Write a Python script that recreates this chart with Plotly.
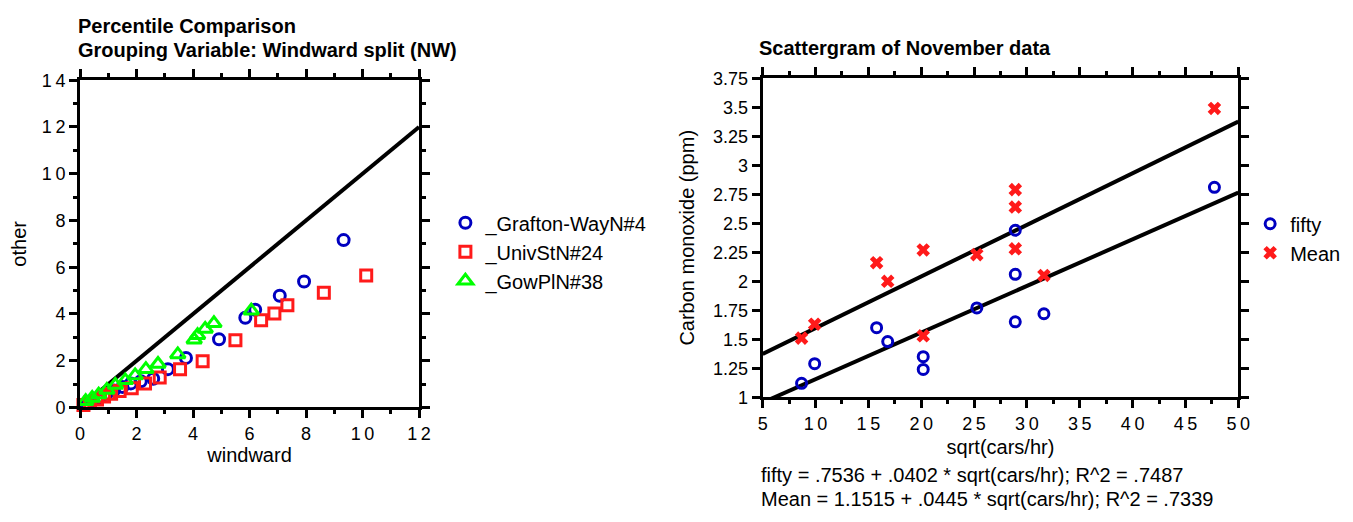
import plotly.graph_objects as go

W, H = 1353, 522

# ---------------- Left panel: percentile comparison ----------------
grafton_x = [0.25, 0.45, 0.7, 0.95, 1.2, 1.5, 1.8, 2.15, 2.59, 3.11, 3.75, 4.92, 5.85, 6.20, 7.07, 7.93, 9.33]
grafton_y = [0.15, 0.29, 0.44, 0.59, 0.73, 0.88, 1.03, 1.12, 1.23, 1.64, 2.12, 2.92, 3.84, 4.18, 4.78, 5.39, 7.16]

univ_x = [0.12, 0.35, 0.6, 0.85, 1.1, 1.4, 1.83, 2.30, 2.82, 3.54, 4.34, 5.50, 6.41, 6.88, 7.34, 8.63, 10.13]
univ_y = [0.10, 0.21, 0.34, 0.47, 0.59, 0.70, 0.82, 1.03, 1.28, 1.64, 1.98, 2.88, 3.73, 4.02, 4.37, 4.91, 5.65]

gowpl_x = [0.20, 0.43, 0.66, 0.95, 1.25, 1.60, 1.95, 2.33, 2.76, 3.46, 4.04, 4.16, 4.43, 4.74, 6.06]
gowpl_y = [0.27, 0.41, 0.55, 0.75, 0.96, 1.16, 1.37, 1.64, 1.86, 2.27, 2.90, 3.09, 3.36, 3.60, 4.14]

diag = [0, 12]

x1_tickvals = [0, 2, 4, 6, 8, 10, 12]
x1_ticktext = ["0", "2", "4", "6", "8", "1\u20090", "1\u20092"]
y1_tickvals = [0, 2, 4, 6, 8, 10, 12, 14]
y1_ticktext = ["0", "2", "4", "6", "8", "1\u20090", "1\u20092", "1\u20094"]

# ---------------- Right panel: scattergram ----------------
sqrt_cars = [8.68, 9.92, 15.78, 16.83, 20.19, 20.19, 25.26, 28.90, 28.90, 28.90, 31.61, 47.74]
fifty = [1.12, 1.29, 1.60, 1.48, 1.35, 1.24, 1.77, 2.44, 2.06, 1.65, 1.72, 2.81]
mean_x = [8.68, 9.92, 15.78, 16.83, 20.19, 20.19, 25.26, 28.90, 28.90, 28.90, 31.61, 47.74]
mean_co = [1.51, 1.63, 2.16, 2.00, 2.27, 1.53, 2.23, 2.79, 2.64, 2.28, 2.05, 3.49]

fit_x = [5, 50]
fifty_fit = (0.7536, 0.0402)
mean_fit = (1.1515, 0.0445)

x2_tickvals = [5, 10, 15, 20, 25, 30, 35, 40, 45, 50]
x2_ticktext = ["5", "1\u20090", "1\u20095", "2\u20090", "2\u20095", "3\u20090", "3\u20095", "4\u20090", "4\u20095", "5\u20090"]
y2_tickvals = [1, 1.25, 1.5, 1.75, 2, 2.25, 2.5, 2.75, 3, 3.25, 3.5, 3.75]
y2_ticktext = ["1", "1.25", "1.5", "1.75", "2", "2.25", "2.5", "2.75", "3", "3.25", "3.5", "3.75"]

FONT = "Liberation Sans, Arial, Helvetica, sans-serif"
FS = 20
TFS = 18
BLUE = "#0000c0"
RED = "#ff1a1a"
GREEN = "#00ff00"

fig = go.Figure()

fig.add_trace(go.Scatter(x=diag, y=diag, mode="lines", line=dict(color="black", width=4),
                         showlegend=False, hoverinfo="skip", xaxis="x", yaxis="y"))
fig.add_trace(go.Scatter(x=grafton_x, y=grafton_y, mode="markers", name="_Grafton-WayN#4",
                         marker=dict(symbol="circle-open", size=11, color=BLUE, line=dict(width=3, color=BLUE)),
                         xaxis="x", yaxis="y", legend="legend", cliponaxis=False))
fig.add_trace(go.Scatter(x=univ_x, y=univ_y, mode="markers", name="_UnivStN#24",
                         marker=dict(symbol="square-open", size=11, color=RED, line=dict(width=3, color=RED)),
                         xaxis="x", yaxis="y", legend="legend", cliponaxis=False))
fig.add_trace(go.Scatter(x=gowpl_x, y=gowpl_y, mode="markers", name="_GowPlN#38",
                         marker=dict(symbol="triangle-up-open", size=13, color=GREEN, line=dict(width=3, color=GREEN)),
                         xaxis="x", yaxis="y", legend="legend", cliponaxis=False))

fig.add_trace(go.Scatter(x=fit_x, y=[fifty_fit[0] + fifty_fit[1] * v for v in fit_x], mode="lines",
                         line=dict(color="black", width=4), showlegend=False, hoverinfo="skip",
                         xaxis="x2", yaxis="y2"))
fig.add_trace(go.Scatter(x=fit_x, y=[mean_fit[0] + mean_fit[1] * v for v in fit_x], mode="lines",
                         line=dict(color="black", width=4), showlegend=False, hoverinfo="skip",
                         xaxis="x2", yaxis="y2"))
fig.add_trace(go.Scatter(x=sqrt_cars, y=fifty, mode="markers", name="fifty",
                         marker=dict(symbol="circle-open", size=10, color=BLUE, line=dict(width=3, color=BLUE)),
                         xaxis="x2", yaxis="y2", legend="legend2"))
fig.add_trace(go.Scatter(x=mean_x, y=mean_co, mode="markers", name="Mean",
                         marker=dict(symbol="x", size=12, color=RED, line=dict(width=0)),
                         xaxis="x2", yaxis="y2", legend="legend2"))

axis_common = dict(showline=True, linewidth=3, linecolor="black", mirror="allticks",
                   ticks="outside", ticklen=8, tickwidth=3, tickcolor="black",
                   showgrid=False, zeroline=False,
                   tickfont=dict(family=FONT, size=TFS, color="black"),
                   title_font=dict(family=FONT, size=FS, color="black"))
minor_common = dict(ticklen=4, tickwidth=3, tickcolor="black", ticks="outside")

fig.update_layout(
    width=W, height=H,
    margin=dict(l=0, r=0, t=0, b=0),
    paper_bgcolor="white", plot_bgcolor="white",
    font=dict(family=FONT, size=FS, color="black"),
    xaxis=dict(axis_common, domain=[76 / W, 419.3 / W], range=[0, 12],
               tickmode="array", tickvals=x1_tickvals, ticktext=x1_ticktext,
               minor=dict(minor_common, dtick=1, tick0=0),
               title=dict(text="windward", standoff=4), anchor="y"),
    yaxis=dict(axis_common, domain=[1 - 413.3 / H, 1 - 73 / H], range=[0, 14],
               tickmode="array", tickvals=y1_tickvals, ticktext=y1_ticktext,
               minor=dict(minor_common, dtick=1, tick0=0),
               title=dict(text="other", standoff=10), anchor="x"),
    xaxis2=dict(axis_common, domain=[767.3 / W, 1249 / W], range=[5, 50],
                tickmode="array", tickvals=x2_tickvals, ticktext=x2_ticktext,
                minor=dict(minor_common, dtick=2.5, tick0=5),
                title=dict(text="sqrt(cars/hr)", standoff=8), anchor="y2"),
    yaxis2=dict(axis_common, domain=[1 - 402.7 / H, 1 - 71 / H], range=[1, 3.75],
                tickmode="array", tickvals=y2_tickvals, ticktext=y2_ticktext,
                title=dict(text="Carbon monoxide (ppm)", standoff=14), anchor="x2"),
    legend=dict(x=446 / W, y=1 - 201 / H, xanchor="left", yanchor="top",
                font=dict(family=FONT, size=FS, color="black"), bgcolor="rgba(0,0,0,0)"),
    legend2=dict(x=1261 / W, y=1 - 202 / H, xanchor="left", yanchor="top",
                 font=dict(family=FONT, size=FS, color="black"), bgcolor="rgba(0,0,0,0)"),
    showlegend=True,
)

annotations = [
    dict(text="<b>Percentile Comparison</b>", x=72 / W, y=1 - 17 / H),
    dict(text="<b>Grouping Variable: Windward split (NW)</b>", x=72 / W, y=1 - 42 / H),
    dict(text="<b>Scattergram of November data</b>", x=762 / W, y=1 - 40 / H),
    dict(text="fifty = .7536 + .0402 * sqrt(cars/hr); R^2 = .7487", x=764 / W, y=1 - 484 / H),
    dict(text="Mean = 1.1515 + .0445 * sqrt(cars/hr); R^2 = .7339", x=764 / W, y=1 - 508 / H),
]
for a in annotations:
    fig.add_annotation(xref="paper", yref="paper", xanchor="left", yanchor="middle",
                       showarrow=False, font=dict(family=FONT, size=FS, color="black"), **a)

fig.write_html("out.html",
               config={"displayModeBar": False},
               post_script="document.body.style.margin='0';document.body.style.overflow='hidden';")
